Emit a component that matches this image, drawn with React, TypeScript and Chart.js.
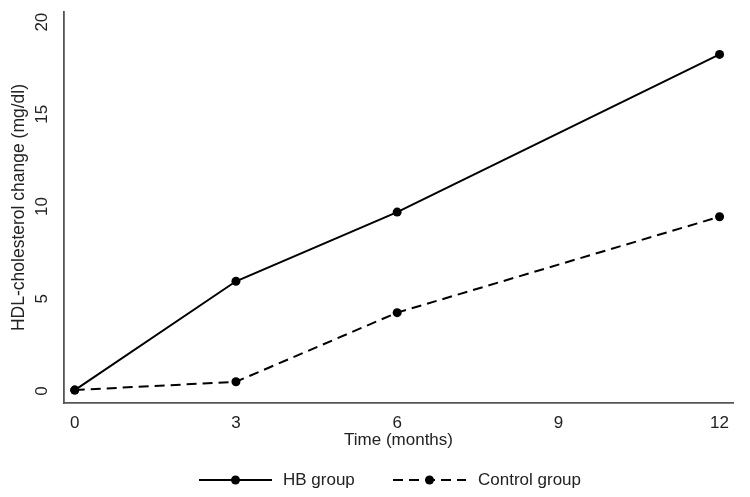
import React, { useEffect, useRef } from "react";
import { Chart, registerables } from "chart.js";

Chart.register(...registerables);

const months = [0, 3, 6, 12];
const hbGroup = [0.05, 5.95, 9.7, 18.25];
const controlGroup = [0.05, 0.5, 4.25, 9.45];
const xTicks = [0, 3, 6, 9, 12];
const yTicks = [0, 5, 10, 15, 20];
const seriesNames = ["HB group", "Control group"];

const FONT = "'Liberation Sans', Arial, sans-serif";
const TEXT = "#222";
const AXIS = "#555";

export default function App() {
  const ref = useRef<HTMLCanvasElement | null>(null);

  useEffect(() => {
    if (!ref.current) return;

    const yLabelsPlugin = {
      id: "yLabels",
      afterDraw(chart: any) {
        const ctx = chart.ctx;
        const y = chart.scales.y;
        ctx.save();
        ctx.fillStyle = TEXT;
        ctx.font = `17px ${FONT}`;
        ctx.textAlign = "center";
        ctx.textBaseline = "middle";
        yTicks.forEach((v) => {
          const py = y.getPixelForValue(v);
          ctx.save();
          ctx.translate(42, py);
          ctx.rotate(-Math.PI / 2);
          ctx.fillText(String(v), 0, 0);
          ctx.restore();
        });
        ctx.restore();
      },
    };

    const legendPlugin = {
      id: "customLegend",
      afterDraw(chart: any) {
        const ctx = chart.ctx;
        const ly = 480;
        const items = [
          { x0: 199, x1: 272, tx: 283, dash: [] as number[], label: seriesNames[0] },
          { x0: 393, x1: 466, tx: 478, dash: [10, 6], label: seriesNames[1] },
        ];
        ctx.save();
        items.forEach((it) => {
          ctx.strokeStyle = "#000";
          ctx.lineWidth = 2;
          ctx.setLineDash(it.dash);
          ctx.beginPath();
          ctx.moveTo(it.x0, ly);
          ctx.lineTo(it.x1, ly);
          ctx.stroke();
          ctx.setLineDash([]);
          ctx.fillStyle = "#000";
          ctx.beginPath();
          ctx.arc((it.x0 + it.x1) / 2, ly, 4.5, 0, Math.PI * 2);
          ctx.fill();
          ctx.fillStyle = TEXT;
          ctx.font = `17px ${FONT}`;
          ctx.textAlign = "left";
          ctx.textBaseline = "middle";
          ctx.fillText(it.label, it.tx, ly);
        });
        ctx.restore();
      },
    };

    const chart = new Chart(ref.current, {
      type: "line",
      data: {
        datasets: [
          {
            label: seriesNames[0],
            data: months.map((m, i) => ({ x: m, y: hbGroup[i] })),
            borderColor: "#000",
            backgroundColor: "#000",
            borderWidth: 2,
            pointRadius: 4.5,
            pointBackgroundColor: "#000",
            pointBorderWidth: 0,
            tension: 0,
          },
          {
            label: seriesNames[1],
            data: months.map((m, i) => ({ x: m, y: controlGroup[i] })),
            borderColor: "#000",
            backgroundColor: "#000",
            borderWidth: 2,
            borderDash: [10, 6],
            pointRadius: 4.5,
            pointBackgroundColor: "#000",
            pointBorderWidth: 0,
            tension: 0,
          },
        ],
      },
      options: {
        responsive: false,
        animation: false,
        layout: { padding: { left: 0, right: 17, top: 12, bottom: 44 } },
        plugins: { legend: { display: false }, tooltip: { enabled: false } },
        scales: {
          x: {
            type: "linear",
            min: -0.2,
            max: 12.25,
            afterBuildTicks: (s: any) => {
              s.ticks = xTicks.map((v) => ({ value: v }));
            },
            afterFit: (s: any) => {
              s.height = 50;
            },
            grid: { display: false, drawTicks: false },
            border: { display: true, color: AXIS, width: 1.8 },
            ticks: {
              padding: 10,
              color: TEXT,
              font: { family: FONT, size: 17 },
              maxRotation: 0,
              minRotation: 0,
            },
            title: {
              display: true,
              text: "Time (months)",
              color: TEXT,
              font: { family: FONT, size: 17 },
              padding: { top: 0, bottom: 2 },
            },
          },
          y: {
            type: "linear",
            min: -0.65,
            max: 20.55,
            afterBuildTicks: (s: any) => {
              s.ticks = yTicks.map((v) => ({ value: v }));
            },
            afterFit: (s: any) => {
              s.width = 64;
            },
            grid: { display: false, drawTicks: false },
            border: { display: true, color: AXIS, width: 1.8 },
            ticks: { display: false },
            title: {
              display: true,
              text: "HDL-cholesterol change (mg/dl)",
              color: TEXT,
              font: { family: FONT, size: 17.5 },
              padding: { top: 9, bottom: 0 },
            },
          },
        },
      },
      plugins: [yLabelsPlugin, legendPlugin],
    });

    return () => chart.destroy();
  }, []);

  return (
    <div style={{ position: "fixed", left: 0, top: 0, width: 750, height: 497, background: "#fff" }}>
      <canvas ref={ref} width={750} height={497} />
    </div>
  );
}
